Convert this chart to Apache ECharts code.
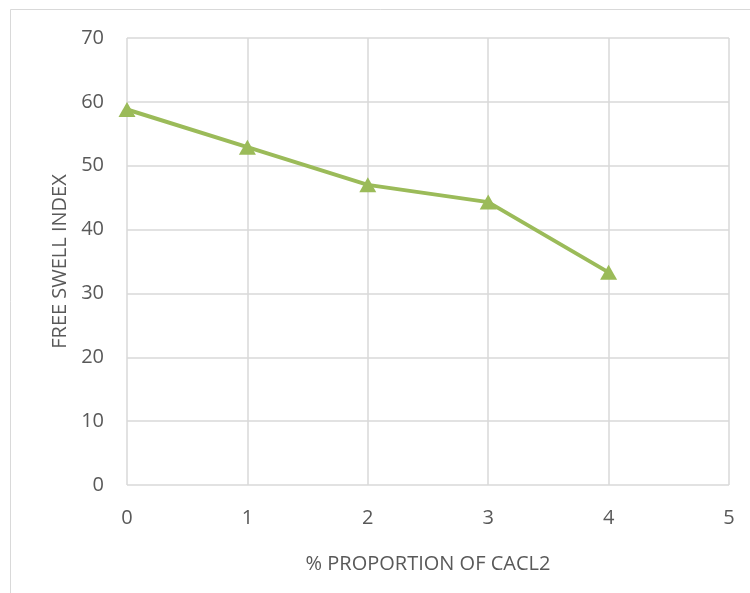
<!DOCTYPE html>
<html>
<head>
<meta charset="utf-8">
<script src="https://cdn.jsdelivr.net/npm/echarts@6/dist/echarts.min.js"></script>
<style>
  html, body { margin: 0; padding: 0; background: #ffffff; }
  #chart { width: 750px; height: 593px; }
</style>
</head>
<body>
<div id="chart"></div>
<script>
// Free swell index versus CaCl2 content
const proportions = [0, 1, 2, 3, 4];
const freeSwellIndex = [58.8, 52.9, 47.0, 44.3, 33.3];
const xTicks = [0, 1, 2, 3, 4, 5];
const yTicks = [0, 10, 20, 30, 40, 50, 60, 70];

const textColor = '#595959';
const gridColor = '#d9d9d9';
const fontFamily = '"Open Sans", "Noto Sans", sans-serif';
const fontSize = 20;

const chart = echarts.init(document.getElementById('chart'), null, { renderer: 'canvas' });

chart.setOption({
  backgroundColor: '#ffffff',
  animation: false,
  graphic: [{
    type: 'rect',
    shape: { x: 10.5, y: 9.5, width: 800, height: 700 },
    style: { fill: 'none', stroke: gridColor, lineWidth: 1 },
    silent: true
  }],
  grid: { left: 127, right: 21, top: 38, bottom: 108 },
  xAxis: {
    type: 'value',
    min: xTicks[0],
    max: xTicks[xTicks.length - 1],
    interval: 1,
    name: '% PROPORTION OF CACL2',
    nameLocation: 'middle',
    nameGap: 69,
    nameTextStyle: { color: textColor, fontSize, fontFamily },
    axisLine: { show: false },
    axisTick: { show: false },
    axisLabel: { color: textColor, fontSize, fontFamily, margin: 23 },
    splitLine: { show: true, lineStyle: { color: gridColor, width: 1.5 } }
  },
  yAxis: {
    type: 'value',
    min: yTicks[0],
    max: yTicks[yTicks.length - 1],
    interval: 10,
    name: 'FREE SWELL INDEX',
    nameLocation: 'middle',
    nameGap: 57,
    nameTextStyle: { color: textColor, fontSize, fontFamily },
    axisLine: { show: false },
    axisTick: { show: false },
    axisLabel: { color: textColor, fontSize, fontFamily, margin: 23 },
    splitLine: { show: true, lineStyle: { color: gridColor, width: 1.5 } }
  },
  series: [{
    type: 'line',
    data: proportions.map((p, i) => [p, freeSwellIndex[i]]),
    symbol: 'triangle',
    symbolSize: [17, 15],
    itemStyle: { color: '#9bbb59' },
    lineStyle: { color: '#9bbb59', width: 4 }
  }]
});
</script>
</body>
</html>
